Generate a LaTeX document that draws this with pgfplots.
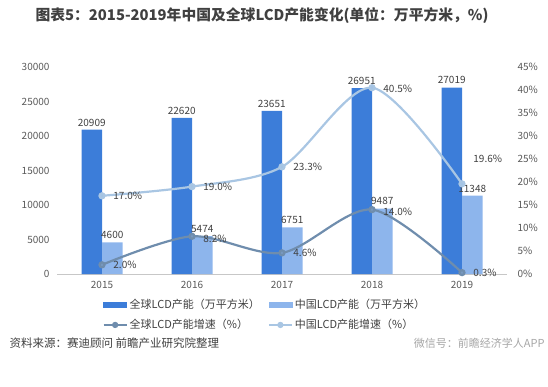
\documentclass[border=0pt]{standalone}
\usepackage{pgfplots}
\pgfplotsset{compat=1.18}
\usepackage{fontspec}
\setmainfont{Noto Sans CJK SC}
\definecolor{gbar}{HTML}{3C7DD9}
\definecolor{cbar}{HTML}{8DB5EC}
\definecolor{gline}{HTML}{6F8DAD}
\definecolor{cline}{HTML}{A9C6E3}
\definecolor{txt}{HTML}{404040}
\definecolor{tick}{HTML}{595959}
\begin{document}
\begin{tikzpicture}[x=1pt,y=1pt]
\path[use as bounding box] (0,0) rectangle (548,386);
\node[font=\bfseries\fontsize{14.8}{17}\selectfont, text=txt] at (262,370) {图表5：2015-2019年中国及全球LCD产能变化(单位：万平方米，\%)};
\node[anchor=west, font=\fontsize{11.5}{13}\selectfont, text=txt] at (6,43) {资料来源：赛迪顾问 前瞻产业研究院整理};
\node[anchor=east, font=\fontsize{11}{13}\selectfont, text=gray!70] at (548,43) {微信号：前瞻经济学人APP};
\begin{axis}[
  at={(57pt,112pt)}, anchor=south west, scale only axis, width=450pt, height=207pt,
  xmin=-0.5, xmax=4.5, ymin=0, ymax=30000,
  ytick={0,5000,...,30000}, scaled ticks=false,
  xtick={0,...,4}, xticklabels={2015,2016,2017,2018,2019},
  axis x line*=bottom, axis y line*=left,
  y axis line style={draw=none}, x axis line style={draw=black!22, line width=0.8pt},
  major tick length=0pt,
  /pgf/number format/assume math mode=true,
  /pgf/number format/1000 sep={},
  ticklabel style={font=\fontsize{10}{12}\selectfont, text=tick},
  yticklabel style={xshift=-4pt},
  xticklabel style={yshift=-4pt},
  ybar, bar width=20.5pt,
  nodes near coords,
  every node near coord/.append style={font=\fontsize{10}{12}\selectfont, text=txt, /pgf/number format/1000 sep={}, /pgf/number format/assume math mode=true},
]
\addplot[fill=gbar, draw=none, bar shift=-10.25pt] coordinates {(0,20909) (1,22620) (2,23651) (3,26951) (4,27019)};
\addplot[fill=cbar, draw=none, bar shift=10.25pt] coordinates {(0,4600) (1,5474) (2,6751) (3,9487) (4,11348)};
\end{axis}
\begin{axis}[
  at={(57pt,112pt)}, anchor=south west, scale only axis, width=450pt, height=207pt,
  xmin=-0.5, xmax=4.5, ymin=0, ymax=45,
  ytick={0,5,...,45},
  yticklabel={\pgfmathprintnumber{\tick}\%},
  axis x line=none, axis y line*=right,
  y axis line style={draw=none},
  major tick length=0pt,
  /pgf/number format/assume math mode=true,
  ticklabel style={font=\fontsize{10}{12}\selectfont, text=tick},
  yticklabel style={xshift=7pt},
  legend columns=2,
  legend style={at={(0.462,-0.198)}, anchor=center, draw=none, fill=none,
    font=\fontsize{11}{13}\selectfont, text=txt, row sep=5pt,
    /tikz/every even column/.append style={column sep=6pt},
    inner sep=0pt},
  legend cell align=left,
  visualization depends on={\thisrow{dy} \as \dy},
  nodes near coords={\pgfmathprintnumber[fixed,fixed zerofill,precision=1]{\pgfplotspointmeta}\%},
  every node near coord/.append style={font=\fontsize{10}{12}\selectfont, text=txt, anchor=west, xshift=7pt, yshift=\dy pt, /pgf/number format/assume math mode=true},
]
\addlegendimage{legend image code/.code={\fill[gbar] (0pt,-2.5pt) rectangle (23pt,2.5pt);}}
\addlegendentry{全球LCD产能（万平方米）}
\addlegendimage{legend image code/.code={\fill[cbar] (0pt,-2.5pt) rectangle (23pt,2.5pt);}}
\addlegendentry{中国LCD产能（万平方米）}
\addplot[gline, line width=2.2pt, smooth, mark=*, mark size=2.5pt, mark options={fill=gline!70!cbar, draw=none},
  legend image code/.code={\draw[gline, line width=2pt] (0pt,0pt) -- (23pt,0pt); \fill[gline] (11.5pt,0pt) circle (2pt);}]
  table {
x y dy
0 2.0 0
1 8.2 -3
2 4.6 0
3 14.0 -2
4 0.3 0
};
\addlegendentry{全球LCD产能增速（\%）}
\addplot[cline, line width=2.2pt, smooth, mark=*, mark size=2.5pt, mark options={fill=cline!80!cbar, draw=none},
  legend image code/.code={\draw[cline, line width=2pt] (0pt,0pt) -- (23pt,0pt); \fill[cline] (11.5pt,0pt) circle (2pt);}]
  table {
x y dy
0 17.0 0
1 19.0 0
2 23.3 0
3 40.5 -1
4 19.6 25
};
\addlegendentry{中国LCD产能增速（\%）}
\end{axis}
\end{tikzpicture}
\end{document}
